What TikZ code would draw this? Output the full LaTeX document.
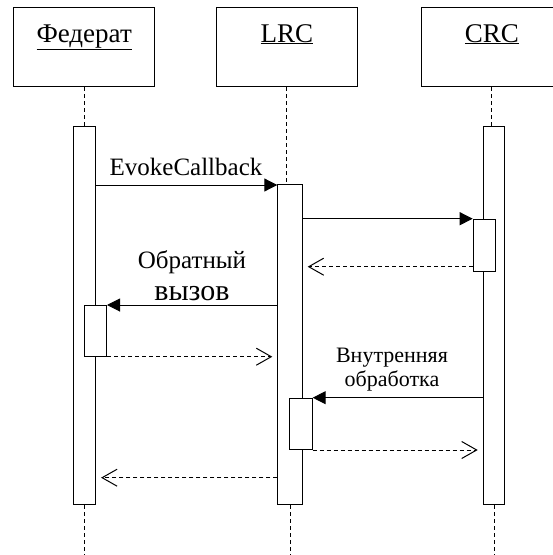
\documentclass[tikz,border=0pt]{standalone}
\usepackage{fontspec}
\setmainfont{Liberation Serif}
\usetikzlibrary{arrows.meta}
\begin{document}
\begin{tikzpicture}[x=1pt,y=-1pt,line width=1pt,
  head/.style={draw, minimum width=141.3pt, minimum height=79.3pt, anchor=north west, inner sep=0pt},
  headtext/.style={anchor=base, inner sep=0pt, font=\fontsize{27}{32}\selectfont},
  bar/.style={draw, fill=white, minimum width=22.4pt, anchor=north west, inner sep=0pt},
  life/.style={dash pattern=on 4pt off 3pt},
  call/.style={-{Triangle[length=13pt,width=13pt]}},
  reply/.style={dash pattern=on 4pt off 3pt, -{Straight Barb[length=15pt,width=17pt]}, shorten >=5pt},
  msgtext/.style={anchor=base, inner sep=0pt, font=\fontsize{25}{30}\selectfont},
  smalltext/.style={anchor=base, inner sep=0pt, font=\fontsize{22}{26}\selectfont}
]
\useasboundingbox (0,0) rectangle (553,555);
\clip (0,0) rectangle (553,555);

% object heads
\node[head] (fed) at (13,6.7) {};
\node[head] (lrc) at (215.7,6.7) {};
\node[head] (crc) at (420.7,6.7) {};
\node[headtext] (fedname) at (fed.north |- 0,42) {\underline{Федерат}};
\node[headtext] (lrcname) at (lrc.north |- 0,42) {\underline{LRC}};
\node[headtext] (crcname) at (crc.north |- 0,42) {\underline{CRC}};

% activation bars
\node[bar, minimum height=378pt] (fedbar) at (72.7,126) {};
\node[bar, minimum height=319.7pt, minimum width=24.4pt] (lrcbar) at (277.3,184.3) {};
\node[bar, minimum height=378pt, minimum width=21.6pt] (crcbar) at (482.7,126) {};

% lifelines
\coordinate (bottom) at (0,555);
\draw[life] (fed.south) -- (fed.south |- fedbar.north);
\draw[life] (lrc.south) -- (lrc.south |- lrcbar.north);
\draw[life] (crc.south) -- (crc.south |- crcbar.north);
\draw[life] (fedbar.south) -- (fedbar.south |- bottom);
\draw[life] (lrcbar.south) -- (lrcbar.south |- bottom);
\draw[life] (crcbar.south) -- (crcbar.south |- bottom);

% nested activations
\node[bar, minimum height=51.8pt, minimum width=22.3pt] (crcact) at (472.7,218.7) {};
\node[bar, minimum height=50.7pt, minimum width=21.7pt] (fedact) at (84.3,305) {};
\node[bar, minimum height=51.3pt, minimum width=22.4pt] (lrcact) at (289.3,397.7) {};

% message levels
\coordinate (y1) at (0,185);
\coordinate (y3) at (0,266.7);
\coordinate (y7) at (0,477.7);

% messages
\draw[call] (fedbar.east |- y1) -- (lrcbar.west |- y1);
\node[msgtext] (evoke) at (186,175) {EvokeCallback};

\draw[call] (lrcbar.east |- crcact.north) -- (crcact.north west);
\draw[reply] (crcact.west |- y3) -- (lrcbar.east |- y3);

\draw[call] (lrcbar.west |- fedact.north) -- (fedact.north east);
\node[msgtext] (cb1) at (192,268) {Обратный};
\node[anchor=base, inner sep=0pt, font=\fontsize{30}{34}\selectfont] (cb2) at (192,300) {вызов};
\draw[reply] (fedact.south east) -- (lrcbar.west |- fedact.south);

\draw[call] (crcbar.west |- lrcact.north) -- (lrcact.north east);
\node[smalltext] (int1) at (392,362) {Внутренняя};
\node[smalltext] (int2) at (392,386.7) {обработка};
\draw[reply] (lrcact.south east) -- (crcbar.west |- lrcact.south);

\draw[reply] (lrcbar.west |- y7) -- (fedbar.east |- y7);
\end{tikzpicture}
\end{document}
